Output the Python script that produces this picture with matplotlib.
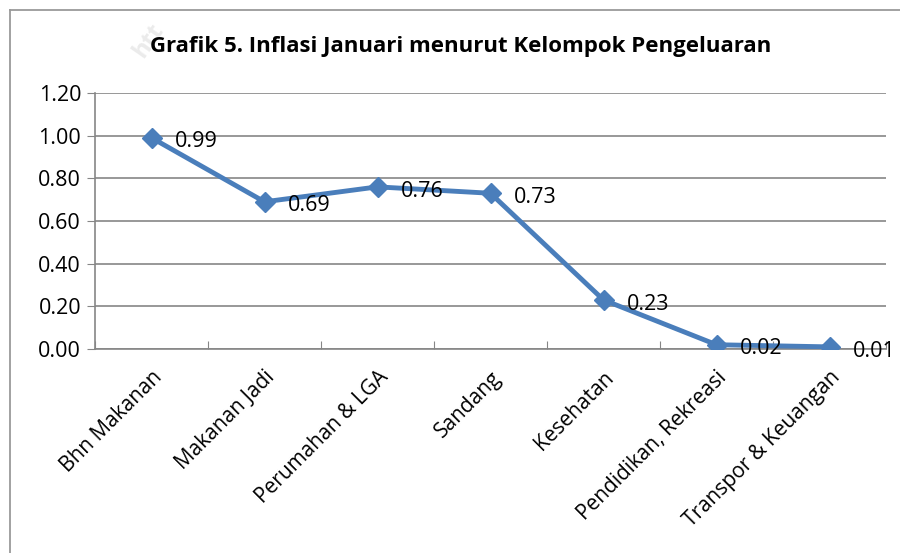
import matplotlib.pyplot as plt
from matplotlib.lines import Line2D

# data
categories = ["Bhn Makanan", "Makanan Jadi", "Perumahan & LGA", "Sandang",
              "Kesehatan", "Pendidikan, Rekreasi", "Transpor & Keuangan"]
inflasi = [0.99, 0.69, 0.76, 0.73, 0.23, 0.02, 0.01]
yticks = [0.0, 0.2, 0.4, 0.6, 0.8, 1.0, 1.2]

BLUE = "#4a7ebb"
GRID = "#868686"
FS = 15.5
plt.rcParams["font.family"] = ["Open Sans", "DejaVu Sans"]

fig = plt.figure(figsize=(9, 5.53), dpi=100)
ax = fig.add_axes([95 / 900, 1 - 349 / 553, (886 - 95) / 900, (349 - 93) / 553])

x = [i + 0.5 for i in range(len(categories))]
ax.plot(x, inflasi, color=BLUE, lw=3.5, marker="D", ms=10, mfc=BLUE, mec=BLUE, zorder=3)
for xi, v in zip(x, inflasi):
    ax.annotate(f"{v:.2f}", (xi, v), xytext=(17, -3), textcoords="offset points",
                fontsize=FS, va="center", ha="left", zorder=4)

ax.set_xlim(0, len(categories))
ax.set_ylim(0, 1.2)
ax.set_yticks(yticks)
ax.set_yticklabels([f"{t:.2f}" for t in yticks], fontsize=FS)
ax.set_xticks(range(len(categories) + 1))
ax.set_xticklabels([])
ax.set_xticks(x, minor=True)
ax.set_xticklabels(categories, minor=True, rotation=45, ha="right", va="top",
                   rotation_mode="anchor", fontsize=15)
ax.tick_params(axis="x", which="minor", length=0, pad=13)
ax.tick_params(axis="x", which="major", length=6, color=GRID, direction="in")
ax.tick_params(axis="y", length=6, color=GRID, direction="out", pad=4)
ax.grid(axis="y", color=GRID, lw=1.2)
for s in ["top", "right"]:
    ax.spines[s].set_visible(False)
ax.spines["left"].set_color(GRID)
ax.spines["bottom"].set_color(GRID)
ax.spines["left"].set_linewidth(1.2)
ax.spines["bottom"].set_linewidth(1.2)

fig.text(461 / 900, 1 - 47 / 553, "Grafik 5. Inflasi Januari menurut Kelompok Pengeluaran",
         ha="center", va="center", fontsize=16, fontweight="bold")

# faint watermark at top left
fig.text(128 / 900, 1 - 62 / 553, "htt", rotation=55, fontsize=17, fontweight="bold",
         color="#ebebeb", ha="left", va="bottom", zorder=0)

# outer chart border
fig.add_artist(Line2D([10 / 900, 1], [1 - 10 / 553] * 2, color="#9a9a9a", lw=1.3))
fig.add_artist(Line2D([10 / 900] * 2, [0, 1 - 10 / 553], color="#9a9a9a", lw=1.3))

fig.savefig("out.png", dpi=100)
